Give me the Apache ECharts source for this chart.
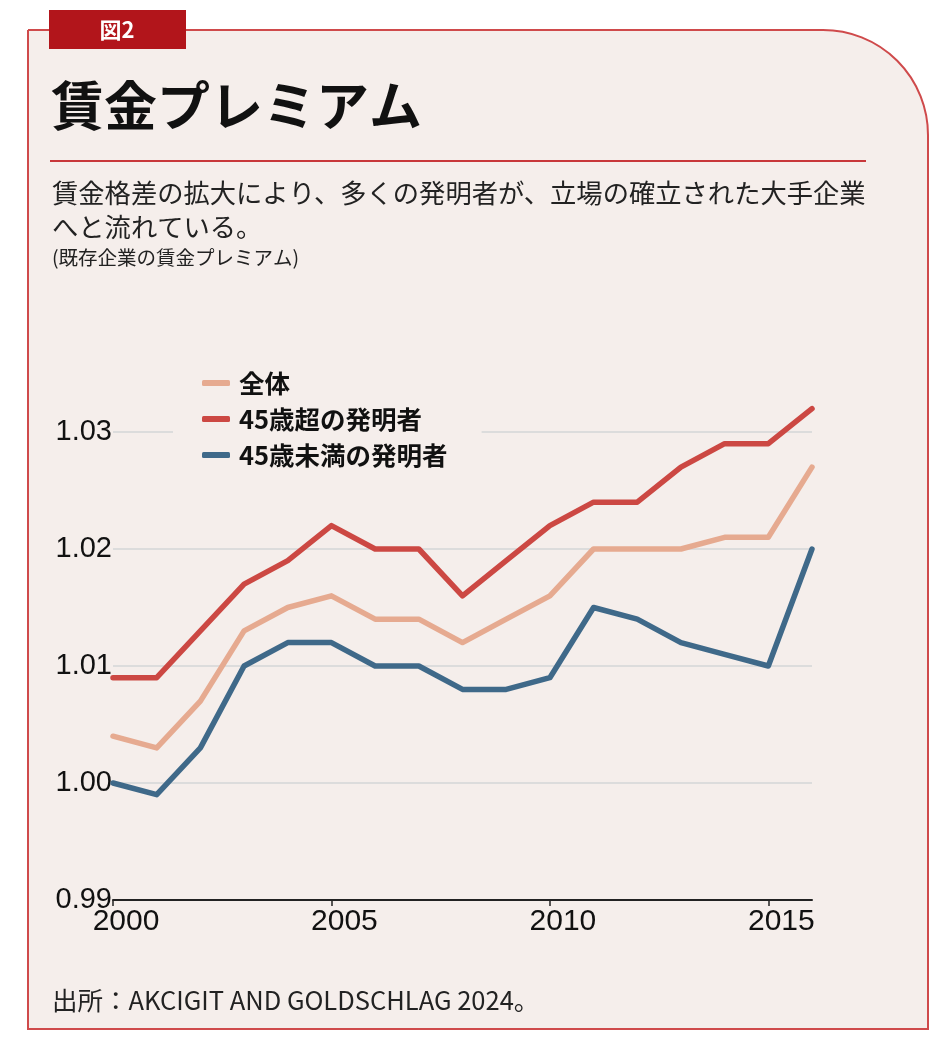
<!DOCTYPE html>
<html><head><meta charset="utf-8">
<script src="https://cdn.jsdelivr.net/npm/echarts@6/dist/echarts.min.js"></script>
<style>html,body{margin:0;padding:0;background:#fff}#c{width:950px;height:1055px}</style>
</head><body><div id="c"></div>
<script>
const years = ['2000','2001','2002','2003','2004','2005','2006','2007','2008','2009','2010','2011','2012','2013','2014','2015','2016'];
const allInventors = [1.004,1.003,1.007,1.013,1.015,1.016,1.014,1.014,1.012,1.014,1.016,1.020,1.020,1.020,1.021,1.021,1.027];
const over45 = [1.009,1.009,1.013,1.017,1.019,1.022,1.020,1.020,1.016,1.019,1.022,1.024,1.024,1.027,1.029,1.029,1.032];
const under45 = [1.000,0.999,1.003,1.010,1.012,1.012,1.010,1.010,1.008,1.008,1.009,1.015,1.014,1.012,1.011,1.010,1.020];
const seriesNames = ['全体','45歳超の発明者','45歳未満の発明者'];
const seriesColors = ['#E6AA90','#CC4843','#3F6989'];
const yTicks = {min:0.99, max:1.03, interval:0.01};

const BG = '#F5EEEB';
const JP = '"Noto Sans CJK JP", sans-serif';
const NUM = '"Liberation Sans", Arial, sans-serif';

const chart = echarts.init(document.getElementById('c'), null, {renderer:'canvas'});
const dataSets = [allInventors, over45, under45];
chart.setOption({
  backgroundColor: '#fff',
  animation: false,
  graphic: [
    {type:'rect', z:-10, shape:{x:28,y:30,width:900,height:999,r:[0,105,0,0]}, style:{fill:BG, stroke:'#CF4A4B', lineWidth:2}},
    {type:'rect', z:-5, shape:{x:49,y:10,width:137,height:39}, style:{fill:'#B2151B'}},
    {type:'text', z:-4, x:117, y:30, style:{text:'図2', fill:'#fff', font:'bold 22px '+JP, align:'center', verticalAlign:'middle'}},
    {type:'text', z:-4, x:51, y:106, style:{text:'賃金プレミアム', fill:'#111', font:'bold 53px '+JP, verticalAlign:'middle'}},
    {type:'line', z:-4, shape:{x1:50,y1:161,x2:866,y2:161}, style:{stroke:'#C8373A', lineWidth:2}},
    {type:'text', z:-4, x:52, y:193, style:{text:'賃金格差の拡大により、多くの発明者が、立場の確立された大手企業', fill:'#222', font:'26.3px '+JP, verticalAlign:'middle'}},
    {type:'text', z:-4, x:52, y:227, style:{text:'へと流れている。', fill:'#222', font:'26.3px '+JP, verticalAlign:'middle'}},
    {type:'text', z:-4, x:52, y:258, style:{text:'(既存企業の賃金プレミアム)', fill:'#222', font:'19.5px '+JP, verticalAlign:'middle'}},
    {type:'text', z:-4, x:52, y:1000, style:{text:'出所：AKCIGIT AND GOLDSCHLAG 2024。', fill:'#222', font:'25.5px '+JP, verticalAlign:'middle'}}
  ],
  legend: {
    data: seriesNames,
    orient: 'vertical',
    left: 173, top: 362,
    padding: [8, 34, 8, 29],
    backgroundColor: BG,
    icon: 'roundRect',
    itemWidth: 28, itemHeight: 6,
    itemGap: 10,
    textStyle: {fontSize: 25.5, fontWeight: 'bold', color: '#111', fontFamily: JP, lineHeight: 26, padding:[0,0,0,4]},
    z: 5
  },
  grid: {left:113, right:138, top:432, bottom:155, containLabel:false},
  xAxis: {
    type: 'category', data: years, boundaryGap: false,
    axisLine: {lineStyle:{color:'#222', width:2}},
    axisTick: {show:true, length:6, interval:(i)=>i%5===0, lineStyle:{color:'#222', width:1.5}},
    axisLabel: {interval:(i)=>i%5===0, color:'#111', fontSize:30, fontFamily:NUM, margin:7, padding:[0,0,0,26]},
    splitLine: {show:false}
  },
  yAxis: {
    type: 'value', min: yTicks.min, max: yTicks.max, interval: yTicks.interval,
    axisLine: {show:false}, axisTick: {show:false},
    axisLabel: {color:'#111', fontSize:29, fontFamily:NUM, margin:1, padding:[0,0,14,0], formatter:(v)=>v.toFixed(2)},
    splitLine: {lineStyle:{color:'#DCDCDC', width:2}}
  },
  series: seriesNames.map((n,i)=>({
    name: n, type: 'line', data: dataSets[i], showSymbol: false, symbol: 'none', clip: false,
    lineStyle: {color: seriesColors[i], width: 5.5, join: 'round', cap: 'round'},
    itemStyle: {color: seriesColors[i]},
    z: 2 + (i===0?1:i===1?2:0)
  }))
});
</script></body></html>
